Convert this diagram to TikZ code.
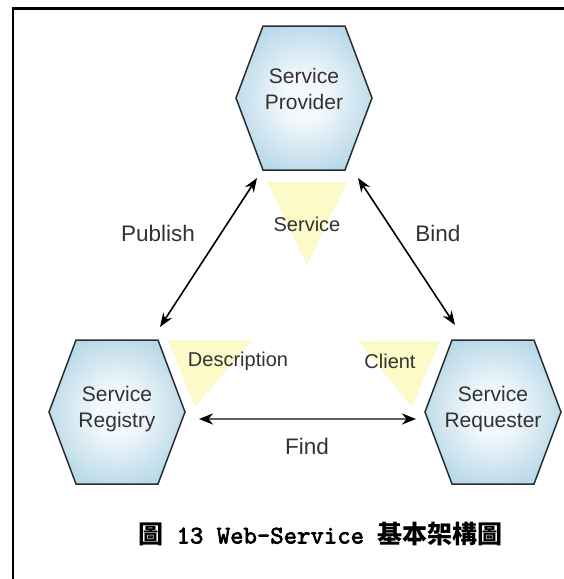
\documentclass[tikz,border=0pt]{standalone}
\usepackage{fontspec}
\setmainfont{Liberation Sans}
\newfontfamily\cjkfont{Noto Sans CJK TC}
\newfontfamily\capmono[FakeBold=2.6]{lmmono10-regular.otf}
\usetikzlibrary{arrows.meta}

\definecolor{hexin}{RGB}{242,248,252}
\definecolor{hexout}{RGB}{146,196,219}
\definecolor{hexedge}{RGB}{40,45,50}
\definecolor{trifill}{RGB}{252,250,200}
\definecolor{labeltext}{RGB}{50,50,50}
\definecolor{findline}{RGB}{95,95,95}

\pgfdeclareradialshading{hexshade}{\pgfpoint{0bp}{0bp}}{%
  color(0bp)=(hexin); color(8bp)=(hexin); color(40bp)=(hexout); color(50bp)=(hexout)}

\tikzset{
  hexbody/.pic={
    \shade[shading=hexshade, draw=hexedge, line width=1.5pt, line join=miter]
      (-68,0) -- (-41,-72) -- (41,-72) -- (68,0) -- (41,72) -- (-41,72) -- cycle;
  },
  hexlabel/.style={text=labeltext, align=center, inner sep=0pt,
    font=\fontsize{21}{25.5}\selectfont},
  trilabel/.style={text=labeltext, inner sep=0pt,
    font=\fontsize{20}{24}\selectfont},
  edgelabel/.style={text=labeltext, inner sep=0pt,
    font=\fontsize{22.5}{27}\selectfont},
  tribody/.style={fill=trifill},
  link/.style={draw=black, line width=1.6pt,
    {Stealth[length=14pt,width=10.5pt]}-{Stealth[length=14pt,width=10.5pt]}},
  findlink/.style={draw=findline, line width=2.6pt,
    {Stealth[length=14pt,width=11pt,black]}-{Stealth[length=14pt,width=11pt,black]}},
  frame/.style={draw=black, line width=2.2pt}
}

\begin{document}
\begin{tikzpicture}[x=1pt, y=-1pt]
  \useasboundingbox (0,0) rectangle (564,579);
  \fill[white] (0,0) rectangle (564,579);

  % outer frame: top and left rules only
  \draw[frame] (13,579) -- (13,8.5) -- (564,8.5);

  % role triangles
  \fill[tribody] (267,182) -- (347,182) -- (307,265) -- cycle;
  \fill[tribody] (168,340) -- (252,340) -- (195,407) -- cycle;
  \fill[tribody] (358,341) -- (440,341) -- (412,407) -- cycle;
  \node[trilabel] (servicerole) at (307,224) {Service};
  \node[trilabel] (descrole) at (238,361) {Description};
  \node[trilabel] (clientrole) at (390,361) {Client};

  % the three parties
  \pic at (304,98) {hexbody};
  \pic at (117,412) {hexbody};
  \pic at (493,412) {hexbody};
  \node[hexlabel] (provider) at (304,89) {Service\\Provider};
  \node[hexlabel] (registry) at (117,409) {Service\\Registry};
  \node[hexlabel] (requester) at (493,409) {Service\\Requester};

  % connector end points in the gaps between the shapes
  \coordinate (pubtop) at (257,178);
  \coordinate (pubbot) at (160,327);
  \coordinate (bindtop) at (358,178);
  \coordinate (bindbot) at (455,325);
  \coordinate (findleft) at (199,419);
  \coordinate (findright) at (416,419);

  \draw[link] (pubbot) -- (pubtop);
  \draw[link] (bindtop) -- (bindbot);
  \draw[findlink] (findleft) -- (findright);

  \node[edgelabel] (publish) at (158,233) {Publish};
  \node[edgelabel] (bind) at (438,233) {Bind};
  \node[edgelabel] (find) at (307,446) {Find};

  % caption: bold heading with typewriter Latin
  \node[anchor=west, inner sep=0pt] (caption) at (138,534)
    {{\cjkfont\bfseries\fontsize{25}{28}\selectfont 圖}%
     {\capmono\fontsize{25.5}{28}\selectfont\ 13 Web-Service\ }%
     {\cjkfont\bfseries\fontsize{25}{28}\selectfont 基本架構圖}};
\end{tikzpicture}
\end{document}
